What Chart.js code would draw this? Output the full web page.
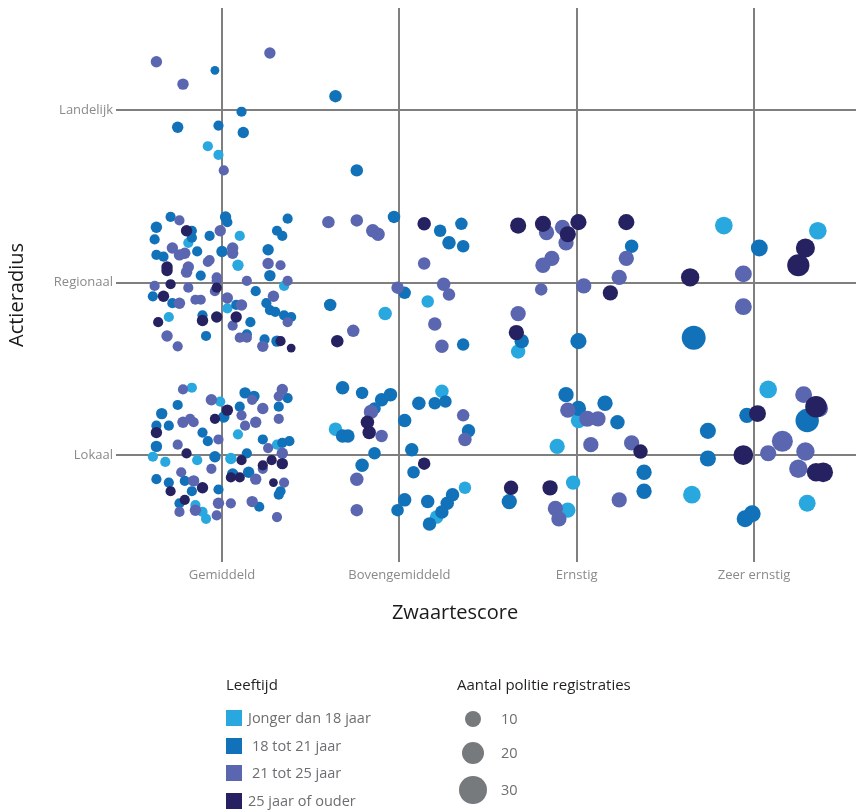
<!DOCTYPE html>
<html><head><meta charset="utf-8">
<script src="https://cdn.jsdelivr.net/npm/chart.js@4"></script>
<style>
html,body{margin:0;padding:0;background:#fff;}
#wrap{position:relative;width:856px;height:811px;font-family:"Open Sans",sans-serif;overflow:hidden;}
#c{position:absolute;left:0;top:0;}
.lg{position:absolute;white-space:nowrap;line-height:16px;font-size:14.5px;color:#6d6e71;}
.hd{color:#231f20;font-size:15px;}
.sq{position:absolute;width:16px;height:16px;}
.ci{position:absolute;border-radius:50%;background:#777a7c;}
</style></head><body>
<div id="wrap"><canvas id="c" width="856" height="811"></canvas><div id="legend"></div></div>
<script>
// ---- data (x = zwaartescore with jitter, y = actieradius with jitter, n = aantal registraties)
const xCategories = ["Gemiddeld","Bovengemiddeld","Ernstig","Zeer ernstig"];
const yCategories = ["Lokaal","Regionaal","Landelijk"];
const xTitle = "Zwaartescore";
const yTitle = "Actieradius";
const groupLabels = ["Jonger dan 18 jaar","18 tot 21 jaar","21 tot 25 jaar","25 jaar of ouder"];
const sizeLegend = [10,20,30];

const jonger = [
 [0.92,2.79,4],[0.98,2.74,4],
 [1.10,2.27,4],[0.81,2.23,4],[1.09,2.10,5],[1.35,1.98,4],[1.03,1.85,4],[0.70,1.80,4],
 [0.83,1.39,4],[0.99,1.31,4],[1.09,1.12,4],[1.31,1.06,4],[0.61,0.99,4],[0.68,0.96,4],[0.86,0.97,4],[1.05,0.98,5],[0.85,0.71,4],[0.89,0.67,4],[0.91,0.63,4],
 [2.16,1.89,6],[1.92,1.82,7],[1.64,1.15,7],[2.24,1.37,7],[2.37,0.81,6],[2.21,0.64,7],
 [2.67,1.60,8],[3.01,1.20,9],[2.89,1.05,9],[2.98,0.84,8],[2.95,0.68,9],
 [3.83,2.33,12],[4.36,2.30,12],[4.08,1.38,12],[3.65,0.77,12],[4.30,0.72,11]
];
const jaar18tot21 = [
 [0.96,3.23,3],[1.11,2.99,4],[0.75,2.90,5],[0.98,2.91,4],[1.12,2.87,5],
 [1.64,3.08,6],[1.76,2.65,6],
 [0.71,2.38,4],[1.02,2.38,5],[1.03,2.35,4],[1.37,2.37,4],[0.63,2.32,5],[0.83,2.30,4],[0.83,2.26,4],[0.93,2.27,4],[1.31,2.30,4],[1.34,2.27,4],[0.62,2.25,4],[0.86,2.18,4],[1.00,2.18,5],[1.26,2.19,5],[0.63,2.16,4],[0.67,2.15,4],[0.88,2.04,4],[1.27,2.04,5],[0.61,1.92,4],[1.19,1.95,4],[0.72,1.88,4],[1.08,1.87,4],[1.25,1.88,4],[1.27,1.84,4],[1.30,1.83,4],[0.89,1.81,4],[1.35,1.81,4],[1.39,1.80,4],[1.16,1.77,4],[0.91,1.69,4],[1.14,1.70,4],[1.24,1.67,4],[1.31,1.66,5],
 [1.13,1.36,5],[1.18,1.34,5],[1.37,1.33,4],[0.75,1.29,4],[1.01,1.22,5],[1.10,1.28,4],[1.32,1.28,4],[0.66,1.24,5],[0.63,1.17,4],[0.70,1.17,4],[0.89,1.13,4],[0.92,1.08,4],[1.23,1.09,4],[0.63,1.05,5],[1.34,1.07,4],[1.38,1.08,4],[0.96,0.99,5],[1.14,1.01,4],[0.63,0.86,4],[1.06,0.89,5],[1.15,0.90,5],[0.70,0.84,4],[0.79,0.85,4],[0.98,0.80,4],[0.83,0.79,4],[1.33,0.79,4],[1.32,0.77,4],[0.76,0.72,4],[1.21,0.70,4],
 [1.97,2.38,6],[2.23,2.30,6],[2.35,2.34,6],[2.28,2.23,7],[2.36,2.21,6],[2.03,1.94,6],[1.61,1.87,6],[2.36,1.64,6],
 [1.68,1.39,7],[1.79,1.36,6],[1.90,1.32,7],[1.95,1.35,7],[1.86,1.27,6],[1.68,1.11,7],[1.71,1.11,7],[2.03,1.20,7],[2.11,1.30,7],[2.20,1.30,6],[2.26,1.31,6],[2.39,1.14,7],[1.86,1.01,6],[2.07,1.03,7],[1.79,0.94,7],[2.08,0.90,6],[2.30,0.77,7],[2.27,0.72,7],[2.24,0.67,7],[2.16,0.73,7],[2.03,0.74,7],[1.99,0.68,6],[2.17,0.60,7],
 [3.31,2.21,7],[2.69,1.66,8],[3.01,1.66,10],[2.94,1.35,9],[3.01,1.27,9],[3.16,1.30,9],[3.23,1.19,8],[3.38,0.90,9],[3.38,0.79,9],[2.62,0.73,9],
 [4.03,2.20,11],[3.66,1.68,22],[4.30,1.20,21],[3.96,1.23,9],[3.74,1.14,10],[3.74,0.98,10],[3.95,0.63,11],[3.99,0.66,11]
];
const jaar21tot25 = [
 [0.63,3.28,5],[1.27,3.33,5],[0.78,3.15,5],[1.01,2.65,4],
 [0.76,2.36,4],[0.99,2.30,5],[0.72,2.20,5],[0.79,2.17,5],[0.76,2.16,5],[1.06,2.20,5],[1.06,2.17,5],[0.93,2.13,4],[0.92,2.12,4],[0.81,2.09,5],[0.80,2.06,5],[1.26,2.11,5],[1.33,2.10,4],[0.97,2.03,4],[0.97,2.01,4],[1.14,2.01,4],[1.37,2.01,4],[0.62,1.98,4],[0.81,1.97,4],[0.96,1.95,4],[1.03,1.91,5],[1.29,1.92,5],[0.76,1.88,5],[0.85,1.90,4],[0.88,1.90,4],[1.11,1.87,5],[1.06,1.75,4],[1.37,1.77,4],[0.69,1.69,5],[1.10,1.68,4],[1.14,1.68,4],[1.23,1.63,5],[0.75,1.63,4],
 [0.78,1.38,4],[1.34,1.38,5],[1.32,1.34,4],[0.94,1.32,5],[1.17,1.32,4],[1.23,1.27,5],[1.11,1.23,4],[1.32,1.21,4],[0.78,1.19,5],[0.82,1.21,4],[0.84,1.19,4],[1.19,1.19,5],[1.13,1.17,4],[0.98,1.09,4],[0.75,1.06,4],[1.26,1.04,4],[1.34,1.01,5],[1.23,0.92,4],[0.94,0.92,4],[0.77,0.90,4],[1.19,0.86,5],[0.84,0.85,5],[1.35,0.84,4],[0.98,0.72,5],[1.05,0.72,4],[1.17,0.73,5],[0.76,0.67,4],[0.85,0.68,5],[0.97,0.65,4],[1.31,0.64,4],
 [1.60,2.35,6],[1.76,2.36,6],[1.85,2.30,7],[1.88,2.28,7],[2.14,2.11,6],[2.25,1.99,7],[2.28,1.93,6],[1.99,1.97,6],[2.20,1.76,7],[1.74,1.72,6],[2.24,1.63,7],
 [1.84,1.25,8],[1.90,1.11,6],[2.36,1.23,6],[2.37,1.09,7],[1.76,0.86,7],[1.76,0.68,6],
 [2.83,2.29,9],[2.92,2.32,9],[2.94,2.23,9],[3.28,2.14,9],[2.86,2.14,9],[2.81,2.10,9],[3.24,2.03,9],[3.04,1.98,9],[2.80,1.96,6],[2.67,1.82,9],
 [2.95,1.26,9],[3.06,1.21,10],[3.12,1.21,9],[3.08,1.06,9],[3.31,1.07,9],[2.88,0.69,9],[2.90,0.63,9],[3.24,0.74,9],
 [3.94,2.05,11],[3.94,1.86,11],[4.28,1.35,11],[4.37,1.27,11],[4.16,1.08,17],[4.08,1.01,10],[4.29,1.02,13],[4.25,0.92,13]
];
const jaar25plus = [
 [0.80,2.30,5],[0.69,2.09,5],[0.69,2.07,5],[0.71,1.99,4],[0.97,1.97,4],[0.67,1.92,5],[0.64,1.77,4],[0.89,1.78,5],[0.97,1.80,5],[1.08,1.80,5],[1.33,1.66,4],[1.39,1.62,3],
 [1.03,1.26,5],[0.96,1.21,4],[0.63,1.13,5],[0.80,1.01,4],[1.11,0.97,4],[1.23,0.94,4],[1.28,0.97,4],[1.34,0.95,5],[0.89,0.81,5],[1.05,0.87,4],[1.10,0.87,4],[1.29,0.84,3],[0.71,0.79,4],[0.79,0.74,4],
 [2.14,2.34,7],[1.65,1.66,6],[1.82,1.19,7],[1.83,1.13,7],[2.14,0.95,6],
 [2.67,2.33,10],[2.81,2.34,10],[2.95,2.28,10],[3.01,2.35,10],[3.28,2.35,10],[3.19,1.94,9],[2.66,1.71,9],
 [3.36,1.02,8],[2.63,0.81,8],[2.85,0.81,9],
 [4.29,2.20,14],[4.25,2.10,19],[3.64,2.03,13],[4.35,1.28,18],[4.02,1.24,11],[3.94,1.00,15],[4.35,0.90,13],[4.39,0.90,15]
];

// ---- styling
const FONT = '"Open Sans", sans-serif';
const colors = ["#29a8e0","#1172b9","#5b66b1","#262262"];
const rad = n => 2.55*Math.sqrt(n);
const groups = [jonger, jaar18tot21, jaar21tot25, jaar25plus];

const titlePlugin = {
  id:'titles',
  afterDraw(chart){
    const ctx = chart.ctx;
    ctx.save();
    ctx.fillStyle = '#1a1a1a';
    ctx.font = '20px ' + FONT;
    ctx.textAlign = 'center';
    ctx.textBaseline = 'middle';
    ctx.fillText(xTitle, 455, 613);
    ctx.translate(17, 295);
    ctx.rotate(-Math.PI/2);
    ctx.fillText(yTitle, 0, 0);
    ctx.restore();
  }
};

const gridCfg = {color:'#7f7f7f', lineWidth:2, tickLength:14, drawTicks:true};
new Chart(document.getElementById('c'), {
  type:'bubble',
  data:{
    datasets: groups.map((g,i)=>({
      label: groupLabels[i],
      data: g.map(([x,y,n])=>({x, y, r: rad(n)})),
      backgroundColor: colors[i],
      borderWidth: 0,
      hoverBorderWidth: 0,
      hoverRadius: 0,
      order: 3 - i
    }))
  },
  options:{
    responsive:false,
    animation:false,
    events:[],
    clip:false,
    layout:{autoPadding:false, padding:{top:8,right:0,bottom:223,left:0}},
    plugins:{legend:{display:false}, tooltip:{enabled:false}},
    scales:{
      x:{
        type:'linear', min:0.4811, max:4.5753,
        afterBuildTicks: s => { s.ticks = xCategories.map((_,i)=>({value:i+1})); },
        afterFit: s => { s.height = 40; s.paddingLeft = 0; s.paddingRight = 0; },
        ticks:{callback:(v)=>xCategories[Math.round(v)-1], color:'#8a8a8a', font:{size:13,family:FONT}, padding:5, maxRotation:0, autoSkip:false},
        grid:gridCfg,
        border:{display:false}
      },
      y:{
        type:'linear', min:0.4609, max:3.5913,
        afterBuildTicks: s => { s.ticks = yCategories.map((_,i)=>({value:i+1})); },
        afterFit: s => { s.width = 130; s.paddingTop = 0; s.paddingBottom = 0; },
        ticks:{callback:(v)=>yCategories[Math.round(v)-1], color:'#8a8a8a', font:{size:13,family:FONT}, padding:3, autoSkip:false},
        grid:gridCfg,
        border:{display:false}
      }
    }
  },
  plugins:[titlePlugin]
});

// ---- legend (HTML)
const lg = document.getElementById('legend');
function add(html){ lg.insertAdjacentHTML('beforeend', html); }
add(`<div class="lg hd" style="left:226px;top:676px">Leeftijd</div>`);
const rowY = [718,746,773,801];
const textX = [248,252,252,248];
groupLabels.forEach((t,i)=>{
  add(`<div class="sq" style="left:226px;top:${rowY[i]-8}px;background:${colors[i]}"></div>`);
  add(`<div class="lg" style="left:${textX[i]}px;top:${rowY[i]-8}px">${t}</div>`);
});
add(`<div class="lg hd" style="left:457px;top:676px">Aantal politie registraties</div>`);
const sizeY = [719,753,790];
sizeLegend.forEach((n,i)=>{
  const r = rad(n);
  add(`<div class="ci" style="left:${473-r}px;top:${sizeY[i]-r}px;width:${2*r}px;height:${2*r}px"></div>`);
  add(`<div class="lg" style="left:501px;top:${sizeY[i]-8}px">${n}</div>`);
});
</script>
</body></html>
